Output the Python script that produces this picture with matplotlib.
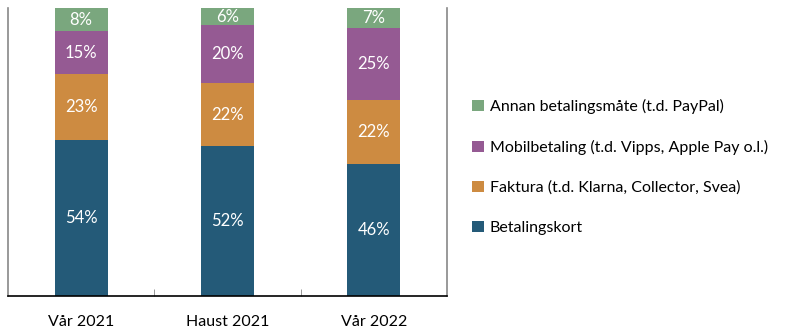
import matplotlib.pyplot as plt
import numpy as np

plt.rcParams['font.family'] = ['Lato', 'DejaVu Sans']

periods = ["Vår 2021", "Haust 2021", "Vår 2022"]
kort = [54, 52, 46]
faktura = [23, 22, 22]
mobil = [15, 20, 25]
annan = [8, 6, 7]

series = [
    ("Betalingskort", kort, "#245a78"),
    ("Faktura (t.d. Klarna, Collector, Svea)", faktura, "#cd8b41"),
    ("Mobilbetaling (t.d. Vipps, Apple Pay o.l.)", mobil, "#955a93"),
    ("Annan betalingsmåte (t.d. PayPal)", annan, "#7aa77e"),
]

fig = plt.figure(figsize=(7.97, 3.34), dpi=100)
ax = fig.add_axes([8/797, 1 - 296/334, 439/797, 288/334])

x = np.arange(len(periods))
bottom = np.zeros(len(periods))
handles = []
for name, vals, color in series:
    bars = ax.bar(x, vals, width=0.363, bottom=bottom, color=color, label=name)
    handles.append(bars)
    for xi, b, v in zip(x, bottom, vals):
        ax.text(xi, b + v / 2, f"{v}%", ha="center", va="center", color="white", fontsize=12)
    bottom += vals

ax.set_xlim(-0.5, 2.5)
ax.set_ylim(0, 100)
ax.set_yticks([])
ax.set_xticks(x)
ax.set_xticklabels(periods, fontsize=11.5)
ax.set_xticks([0.5, 1.5], minor=True)
ax.tick_params(axis="x", which="major", length=0, pad=14)
ax.tick_params(axis="x", which="minor", length=5, color="#888888", direction="in")
ax.spines["top"].set_visible(False)
ax.spines["left"].set_color("#888888")
ax.spines["right"].set_color("#888888")
ax.spines["bottom"].set_color("black")
for s in ax.spines.values():
    s.set_linewidth(1.2)

fig.legend(handles[::-1], [s[0] for s in series][::-1], loc="upper left",
           bbox_to_anchor=(458/797, 1 - 85/334), frameon=False, fontsize=11.5,
           handlelength=0.7, handleheight=0.7, handletextpad=0.4, labelspacing=1.6)

fig.savefig("out.png", dpi=100)
